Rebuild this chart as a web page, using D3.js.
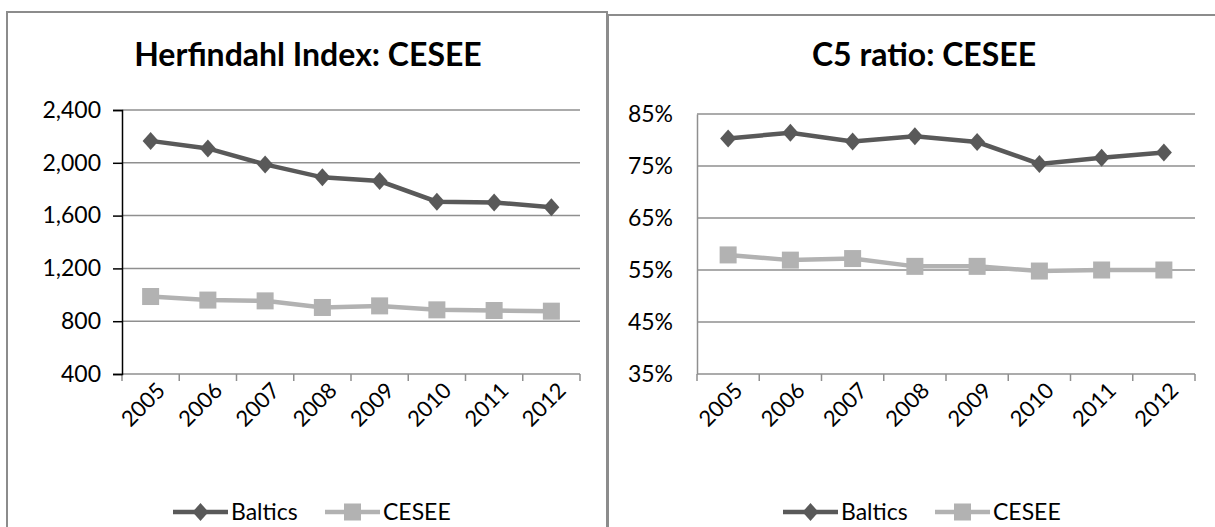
<!DOCTYPE html>
<html>
<head>
<meta charset="utf-8">
<script src="https://cdn.jsdelivr.net/npm/d3@7"></script>
<style>
  body { margin: 0; background: #fff; }
  svg { display: block; font-family: Lato, "Open Sans", sans-serif; }
</style>
</head>
<body>
<svg id="chart" width="1215" height="527"></svg>
<script>
// data
var years = ["2005", "2006", "2007", "2008", "2009", "2010", "2011", "2012"];
var seriesNames = ["Baltics", "CESEE"];

var hhiBaltics = [2166, 2109, 1988, 1890, 1862, 1705, 1700, 1663];
var hhiCesee   = [987, 960, 954, 904, 916, 886, 881, 876];
var hhiTicks   = [400, 800, 1200, 1600, 2000, 2400];

var c5Baltics = [80.3, 81.4, 79.7, 80.7, 79.6, 75.4, 76.6, 77.6];
var c5Cesee   = [57.9, 56.9, 57.2, 55.7, 55.7, 54.8, 55.0, 55.0];
var c5Ticks   = [35, 45, 55, 65, 75, 85];

var colors = d3.scaleOrdinal().domain(seriesNames).range(["#595959", "#b2b2b2"]);

var svg = d3.select("#chart");

function drawPanel(opt)
{
    var g = svg.append("g");

    // frame
    g.append("rect")
        .attr("x", opt.frame[0]).attr("y", opt.frame[1])
        .attr("width", opt.frame[2]).attr("height", opt.frame[3])
        .attr("fill", "none").attr("stroke", "#8c8c8c").attr("stroke-width", 2);

    g.append("text")
        .text(opt.title)
        .attr("x", opt.titleX).attr("y", 66)
        .attr("text-anchor", "middle")
        .attr("font-weight", "bold")
        .attr("font-size", 32)
        .attr("fill", "#000");

    var x = d3.scaleBand().domain(years).range([opt.left, opt.right]);
    var y = d3.scaleLinear().domain(opt.domain).range([374, opt.top]);

    // gridlines
    g.selectAll(".grid")
        .data(opt.ticks.slice(1))
        .enter()
        .append("line")
        .attr("x1", opt.left).attr("x2", opt.right)
        .attr("y1", function(d){ return y(d); })
        .attr("y2", function(d){ return y(d); })
        .attr("stroke", "#8f8f8f").attr("stroke-width", 1.5);

    // x axis: line + ticks at category boundaries
    g.append("line")
        .attr("x1", opt.left).attr("x2", opt.right)
        .attr("y1", y(opt.domain[0])).attr("y2", y(opt.domain[0]))
        .attr("stroke", "#8f8f8f").attr("stroke-width", 1.5);

    var bounds = years.map(function(d){ return x(d); }).concat([opt.right]);
    g.selectAll(".xtick")
        .data(bounds)
        .enter()
        .append("line")
        .attr("x1", function(d){ return d; }).attr("x2", function(d){ return d; })
        .attr("y1", 374).attr("y2", 381)
        .attr("stroke", "#8f8f8f").attr("stroke-width", 1.5);

    // y axis
    var yAxis = d3.axisLeft(y)
        .tickValues(opt.ticks)
        .tickSize(opt.yTickSize)
        .tickPadding(opt.yPad)
        .tickFormat(opt.fmt);
    var ya = g.append("g")
        .attr("transform", "translate(" + opt.left + ",0)")
        .call(yAxis);
    ya.select(".domain").attr("stroke", opt.yColor).attr("stroke-width", 1.5);
    ya.selectAll(".tick line").attr("stroke", opt.yColor).attr("stroke-width", 1.5);
    ya.selectAll(".tick text")
        .attr("font-size", 23)
        .attr("font-family", "Lato, sans-serif")
        .attr("fill", "#000");

    // x labels rotated
    g.selectAll(".xlab")
        .data(years)
        .enter()
        .append("text")
        .text(function(d){ return d; })
        .attr("text-anchor", "end")
        .attr("font-size", 22)
        .attr("fill", "#000")
        .attr("transform", function(d){
            var cx = x(d) + x.bandwidth() / 2 + 16;
            return "translate(" + cx + ",392) rotate(-45)";
        });

    var line = d3.line()
        .x(function(d, i){ return x(years[i]) + x.bandwidth() / 2; })
        .y(function(d){ return y(d); });

    var sets = [opt.a, opt.b];
    sets.forEach(function(vals, k){
        g.append("path")
            .datum(vals)
            .attr("d", line)
            .attr("fill", "none")
            .attr("stroke", colors(seriesNames[k]))
            .attr("stroke-width", 4.5);
    });

    // markers
    g.selectAll(".dia")
        .data(opt.a)
        .enter()
        .append("path")
        .attr("d", "M0,-9L8,0L0,9L-8,0Z")
        .attr("transform", function(d, i){
            return "translate(" + (x(years[i]) + x.bandwidth() / 2) + "," + y(d) + ")";
        })
        .attr("fill", colors("Baltics"));

    g.selectAll(".sq")
        .data(opt.b)
        .enter()
        .append("rect")
        .attr("width", 17).attr("height", 17)
        .attr("x", function(d, i){ return x(years[i]) + x.bandwidth() / 2 - 8.5; })
        .attr("y", function(d){ return y(d) - 8.5; })
        .attr("fill", colors("CESEE"));

    // legend
    var lx = opt.legendX;
    var lg = g.append("g").attr("transform", "translate(" + lx + ",512)");
    var offs = [0, 152];
    seriesNames.forEach(function(name, k){
        var o = offs[k];
        lg.append("line")
            .attr("x1", o).attr("x2", o + 55)
            .attr("y1", 0).attr("y2", 0)
            .attr("stroke", colors(name)).attr("stroke-width", 4.5);
        if (k == 0) {
            lg.append("path").attr("d", "M0,-9L8,0L0,9L-8,0Z")
                .attr("transform", "translate(" + (o + 27.5) + ",0)")
                .attr("fill", colors(name));
        } else {
            lg.append("rect").attr("x", o + 27.5 - 8.5).attr("y", -8.5)
                .attr("width", 17).attr("height", 17)
                .attr("fill", colors(name));
        }
        lg.append("text")
            .text(name)
            .attr("x", o + 58).attr("y", 8)
            .attr("font-size", 23)
            .attr("fill", "#000");
    });
}

drawPanel({
    frame: [7, 12, 600, 540],
    title: "Herfindahl Index: CESEE",
    titleX: 308,
    left: 122, right: 580, top: 110,
    domain: [400, 2400], ticks: hhiTicks,
    fmt: d3.format(","),
    yTickSize: 9, yPad: 12, yColor: "#000",
    a: hhiBaltics, b: hhiCesee,
    legendX: 173
});

drawPanel({
    frame: [608, 15, 640, 540],
    title: "C5 ratio: CESEE",
    titleX: 924,
    left: 697, right: 1195, top: 114,
    domain: [35, 85], ticks: c5Ticks,
    fmt: function(d){ return d + "%"; },
    yTickSize: 0, yPad: 24, yColor: "#8f8f8f",
    a: c5Baltics, b: c5Cesee,
    legendX: 783
});
</script>
</body>
</html>
